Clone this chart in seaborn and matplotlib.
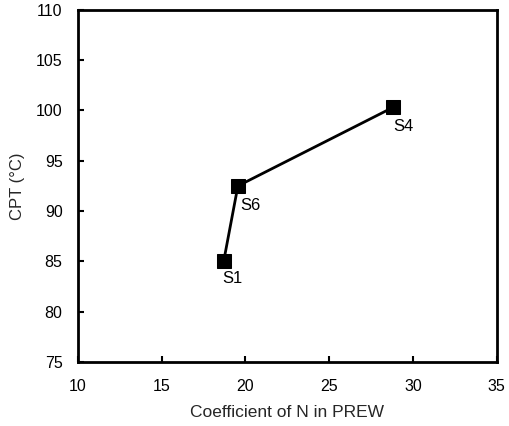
import matplotlib
matplotlib.use("Agg")
import matplotlib.pyplot as plt
import seaborn as sns
import pandas as pd

samples = ["S1", "S6", "S4"]
coef_n = [18.7, 19.55, 28.8]
cpt = [85.0, 92.5, 100.3]
x_ticks = [10, 15, 20, 25, 30, 35]
y_ticks = [75, 80, 85, 90, 95, 100, 105, 110]

sns.set_theme(style="ticks")
plt.rcParams["font.family"] = ["Liberation Sans", "DejaVu Sans"]

df = pd.DataFrame({"x": coef_n, "y": cpt, "s": samples})

fig = plt.figure(figsize=(5.09, 4.26), dpi=100)
ax = fig.add_axes([0.153, 0.150, 0.823, 0.827])
sns.lineplot(data=df, x="x", y="y", sort=False, ax=ax, color="black",
             linewidth=2, marker="s", markersize=9.5, markeredgecolor="black",
             markerfacecolor="black")

offsets = {"S1": (6.5, -12.5), "S6": (9, -14), "S4": (7.5, -14)}
for xv, yv, s in zip(coef_n, cpt, samples):
    dx, dy = offsets[s]
    ax.annotate(s, (xv, yv), xytext=(dx, dy), textcoords="offset points",
                ha="center", va="center", fontsize=12, color="black")

ax.set_xlim(10, 35)
ax.set_ylim(75, 110)
ax.set_xticks(x_ticks)
ax.set_yticks(y_ticks)
ax.tick_params(direction="in", length=4, width=1.5, labelsize=11.5,
               colors="black")
ax.tick_params(axis="x", pad=12)
ax.tick_params(axis="y", pad=11)
for sp in ax.spines.values():
    sp.set_linewidth(2)
    sp.set_color("black")
ax.set_xlabel("Coefficient of N in PREW", fontsize=12.5, labelpad=8)
ax.set_ylabel("CPT (\u00b0C)", fontsize=12, labelpad=8)

fig.savefig("out.png", dpi=100)
